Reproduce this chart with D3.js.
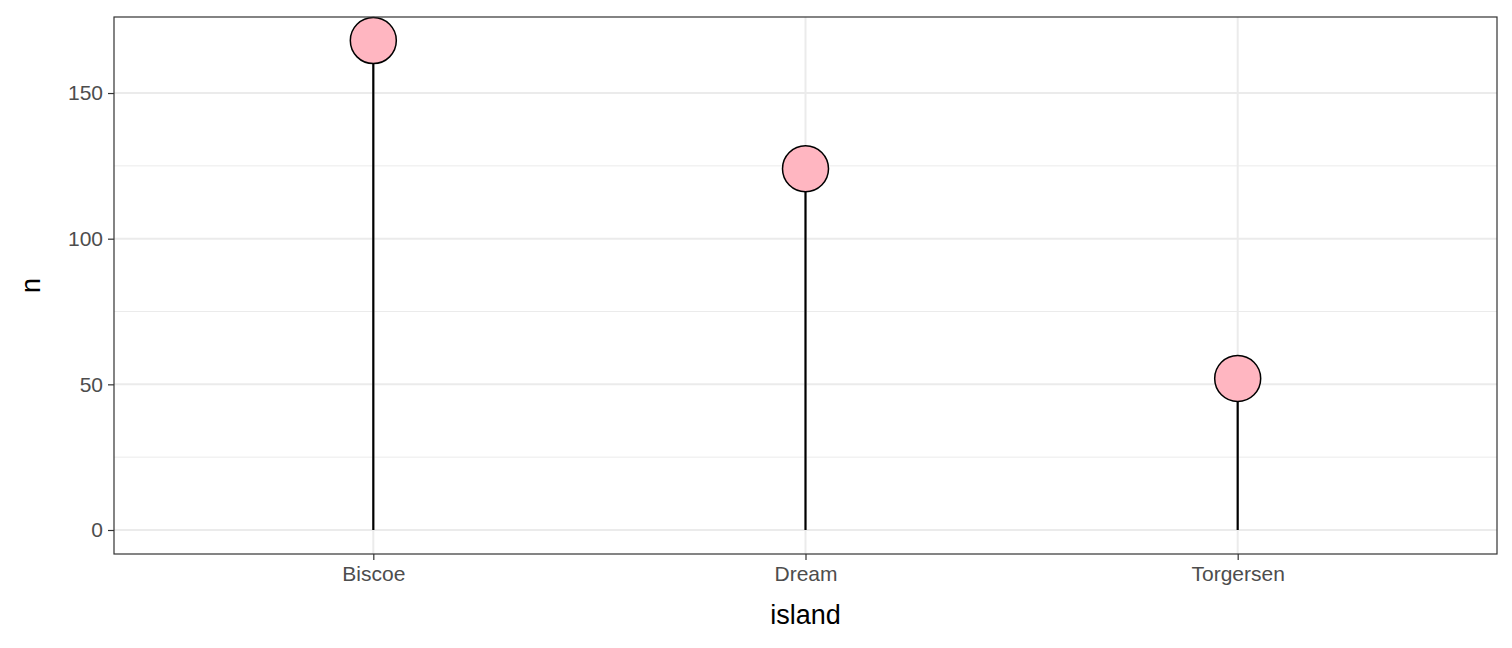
<!DOCTYPE html>
<html><head><meta charset="utf-8">
<script src="https://cdn.jsdelivr.net/npm/d3@7"></script>
<style>body{margin:0;background:#fff}</style>
</head><body>
<svg id="chart" width="1512" height="648"></svg>
<script>
// data
var islands = ["Biscoe", "Dream", "Torgersen"];
var counts = [168, 124, 52];
var yTicks = [0, 50, 100, 150];
var yMinor = [25, 75, 125];

var w = 1512, h = 648;
var pLeft = 114, pRight = 1497, pTop = 17, pBottom = 554;
var svg = d3.select("#chart");

// x: discrete with 0.6 expansion each side
var xScale = d3.scaleLinear().domain([0.4, 3.6]).range([pLeft, pRight]);
var yScale = d3.scaleLinear().domain([-8.24, 176.1]).range([pBottom, pTop]);

// minor grid
svg.selectAll(".minor").data(yMinor).enter().append("line")
    .attr("x1", pLeft).attr("x2", pRight)
    .attr("y1", function(d){ return yScale(d); })
    .attr("y2", function(d){ return yScale(d); })
    .attr("stroke", "#ebebeb").attr("stroke-width", 1);
// major grid
svg.selectAll(".majorY").data(yTicks).enter().append("line")
    .attr("x1", pLeft).attr("x2", pRight)
    .attr("y1", function(d){ return yScale(d); })
    .attr("y2", function(d){ return yScale(d); })
    .attr("stroke", "#ebebeb").attr("stroke-width", 2);
svg.selectAll(".majorX").data(islands).enter().append("line")
    .attr("x1", function(d, i){ return xScale(i + 1); })
    .attr("x2", function(d, i){ return xScale(i + 1); })
    .attr("y1", pTop).attr("y2", pBottom)
    .attr("stroke", "#ebebeb").attr("stroke-width", 2);

// stems
svg.selectAll(".stem").data(counts).enter().append("line")
    .attr("x1", function(d, i){ return xScale(i + 1); })
    .attr("x2", function(d, i){ return xScale(i + 1); })
    .attr("y1", yScale(0))
    .attr("y2", function(d){ return yScale(d); })
    .attr("stroke", "black").attr("stroke-width", 2.2);

// points
svg.selectAll("circle").data(counts).enter().append("circle")
    .attr("cx", function(d, i){ return xScale(i + 1); })
    .attr("cy", function(d){ return yScale(d); })
    .attr("r", 23)
    .attr("fill", "#FFB6C1").attr("stroke", "black").attr("stroke-width", 1.5);

// panel border
svg.append("rect").attr("x", pLeft).attr("y", pTop)
    .attr("width", pRight - pLeft).attr("height", pBottom - pTop)
    .attr("fill", "none").attr("stroke", "#333").attr("stroke-width", 1.2);

// y axis
var yAxis = d3.axisLeft(yScale).tickValues(yTicks).tickSize(6).tickPadding(5);
var gy = svg.append("g").attr("transform", "translate(" + pLeft + ",0)").call(yAxis);
gy.select(".domain").remove();
gy.selectAll("line").attr("stroke", "#333").attr("stroke-width", 1.2);
gy.selectAll("text").attr("fill", "#4d4d4d").style("font-family", "Liberation Sans, Arial").style("font-size", "21px");

// x axis
var xAxis = d3.axisBottom(xScale).tickValues([1, 2, 3])
    .tickFormat(function(d){ return islands[d - 1]; }).tickSize(6).tickPadding(6);
var gx = svg.append("g").attr("transform", "translate(0," + pBottom + ")").call(xAxis);
gx.select(".domain").remove();
gx.selectAll("line").attr("stroke", "#333").attr("stroke-width", 1.2);
gx.selectAll("text").attr("fill", "#4d4d4d").style("font-family", "Liberation Sans, Arial").style("font-size", "21px");

// axis titles
svg.append("text").attr("x", (pLeft + pRight) / 2).attr("y", 624)
    .attr("text-anchor", "middle").style("font-family", "Liberation Sans, Arial")
    .style("font-size", "27px").text("island");
svg.append("text").attr("transform", "translate(40," + ((pTop + pBottom) / 2) + ") rotate(-90)")
    .attr("text-anchor", "middle").style("font-family", "Liberation Sans, Arial")
    .style("font-size", "27px").text("n");
</script>
</body></html>
